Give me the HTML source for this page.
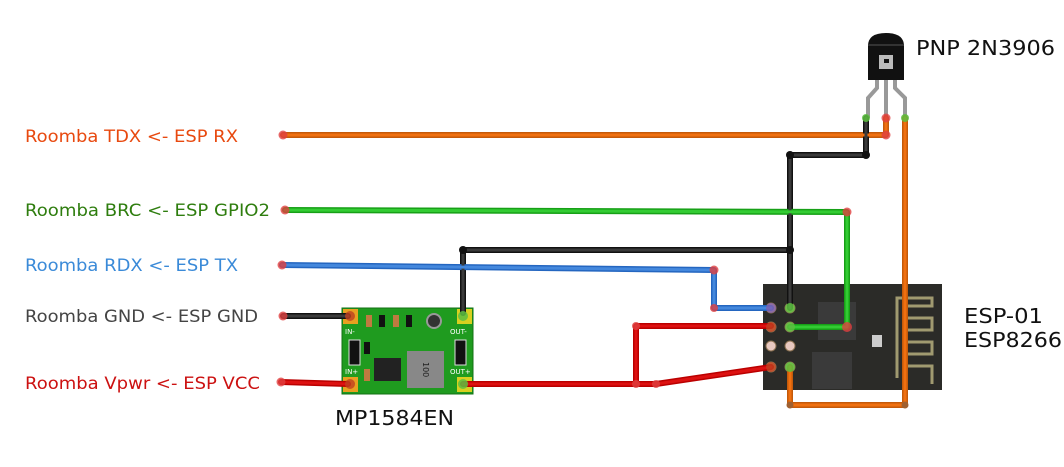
<!DOCTYPE html>
<html><head><meta charset="utf-8"><style>
html,body{margin:0;padding:0;background:#fff;}
svg{display:block;}
text{font-family:"DejaVu Sans","Liberation Sans",sans-serif;}
</style></head><body>
<svg width="1064" height="467" viewBox="0 0 1064 467" xmlns="http://www.w3.org/2000/svg">
<!-- labels -->
<text x="25" y="142" font-size="17" fill="#e8490f" textLength="213" lengthAdjust="spacingAndGlyphs">Roomba TDX &lt;- ESP RX</text>
<text x="25" y="216" font-size="17" fill="#2e7d0e" textLength="245" lengthAdjust="spacingAndGlyphs">Roomba BRC &lt;- ESP GPIO2</text>
<text x="25" y="271" font-size="17" fill="#3a8ad8" textLength="213" lengthAdjust="spacingAndGlyphs">Roomba RDX &lt;- ESP TX</text>
<text x="25" y="322" font-size="17" fill="#444" textLength="233" lengthAdjust="spacingAndGlyphs">Roomba GND &lt;- ESP GND</text>
<text x="25" y="389" font-size="17" fill="#cc1111" textLength="235" lengthAdjust="spacingAndGlyphs">Roomba Vpwr &lt;- ESP VCC</text>
<text x="916" y="55" font-size="20" fill="#111" textLength="139" lengthAdjust="spacingAndGlyphs">PNP 2N3906</text>
<text x="964" y="323" font-size="20" fill="#111" textLength="79" lengthAdjust="spacingAndGlyphs">ESP-01</text>
<text x="964" y="347" font-size="20" fill="#111" textLength="98" lengthAdjust="spacingAndGlyphs">ESP8266</text>
<text x="335" y="425" font-size="20" fill="#111" textLength="119" lengthAdjust="spacingAndGlyphs">MP1584EN</text>

<!-- MP1584 board -->
<rect x="342" y="308" width="131" height="86" fill="#1f9b1f" stroke="#137013" stroke-width="1"/>
<rect x="343" y="309" width="15" height="15" fill="#e8a020"/>
<rect x="343" y="377" width="15" height="15" fill="#e8a020"/>
<rect x="457" y="309" width="15" height="15" fill="#d8d020"/>
<rect x="457" y="377" width="15" height="15" fill="#d8d020"/>
<text x="345" y="334" font-size="7" fill="#fff">IN-</text>
<text x="345" y="374" font-size="7" fill="#fff">IN+</text>
<text x="450" y="334" font-size="7" fill="#fff">OUT-</text>
<text x="450" y="374" font-size="7" fill="#fff">OUT+</text>
<rect x="366" y="315" width="6" height="12" fill="#c07a40"/>
<rect x="379" y="315" width="6" height="12" fill="#111"/>
<rect x="393" y="315" width="6" height="12" fill="#c07a40"/>
<rect x="406" y="315" width="6" height="12" fill="#111"/>
<rect x="349" y="340" width="11" height="25" fill="#111" stroke="#ddd" stroke-width="1"/>
<rect x="364" y="342" width="6" height="12" fill="#111"/>
<rect x="364" y="369" width="6" height="12" fill="#c07a40"/>
<rect x="374" y="358" width="27" height="23" fill="#222"/>
<rect x="407" y="351" width="37" height="37" fill="#888"/>
<text x="0" y="0" font-size="8" fill="#222" transform="translate(423,362) rotate(90)">100</text>
<circle cx="434" cy="321" r="7" fill="#333" stroke="#999" stroke-width="2"/>
<rect x="455" y="340" width="11" height="25" fill="#111" stroke="#ddd" stroke-width="1"/>

<!-- ESP-01 -->
<rect x="763" y="284" width="179" height="106" fill="#2b2b28"/>
<rect x="818" y="302" width="38" height="38" fill="#3a3a3a"/>
<rect x="812" y="352" width="40" height="37" fill="#3a3a3a"/>
<path d="M897 378 V298 H932 V306 H905 V318 H932 V330 H905 V342 H932 V354 H905 V366 H932 V384" fill="none" stroke="#a09a70" stroke-width="3"/>
<rect x="872" y="335" width="10" height="12" fill="#ccc"/>
<g fill="#c9a070" stroke="#8a7050" stroke-width="1">
<circle cx="771" cy="308" r="5"/><circle cx="790" cy="308" r="5"/>
<circle cx="771" cy="327" r="5"/><circle cx="790" cy="327" r="5"/>
<circle cx="771" cy="346" r="5" fill="#e8c8c0"/><circle cx="790" cy="346" r="5" fill="#e8c8c0"/>
<circle cx="771" cy="367" r="5"/><circle cx="790" cy="367" r="5"/>
</g>

<!-- transistor -->
<g stroke="#999" stroke-width="4" fill="none">
<path d="M877 78 V88 L868 98 V118"/>
<path d="M886 78 V118"/>
<path d="M895 78 V88 L905 98 V118"/>
</g>
<path d="M868 80 V46 Q868 33 886 33 Q904 33 904 46 V80 Z" fill="#111"/>
<rect x="868" y="44" width="36" height="2" fill="#333"/>
<rect x="879" y="55" width="14" height="14" fill="#bbb"/><rect x="884" y="59" width="5" height="4" fill="#111"/>

<!-- wires -->
<g fill="none" stroke-linecap="round" stroke-linejoin="round" stroke-width="6">
<path d="M283 135 H886 V118" stroke="#c55a0a"/>
<path d="M905 118 V405 H790 V367" stroke="#c55a0a"/>
<path d="M866 118 V155 H790 V308" stroke="#111"/>
<path d="M463 313 V250 H790" stroke="#111"/>
<path d="M285 210 L847 212 V327 H790" stroke="#17a017"/>
<path d="M282 265 L714 270 V308 H771" stroke="#2466c0"/>
<path d="M283 316 H348" stroke="#111"/>
<path d="M281 382 L348 384" stroke="#b00"/>
<path d="M463 384 H636 V326 H771" stroke="#b00"/>
<path d="M636 384 H656 L771 367" stroke="#b00"/>
</g>
<g fill="none" stroke-linecap="round" stroke-linejoin="round" stroke-width="3">
<path d="M283 135 H886 V118" stroke="#f07010"/>
<path d="M905 118 V405 H790 V367" stroke="#f07010"/>
<path d="M866 118 V155 H790 V308" stroke="#3a3a3a"/>
<path d="M463 313 V250 H790" stroke="#3a3a3a"/>
<path d="M285 210 L847 212 V327 H790" stroke="#33cc33"/>
<path d="M282 265 L714 270 V308 H771" stroke="#4488dd"/>
<path d="M283 316 H348" stroke="#3a3a3a"/>
<path d="M281 382 L348 384" stroke="#dd1111"/>
<path d="M463 384 H636 V326 H771" stroke="#dd1111"/>
<path d="M636 384 H656 L771 367" stroke="#dd1111"/>
</g>
<!-- endpoints -->
<g fill="#e04040" opacity="0.8">
<circle cx="283" cy="135" r="4.5"/><circle cx="285" cy="210" r="4.5"/><circle cx="282" cy="265" r="4.5"/>
<circle cx="283" cy="316" r="4.5"/><circle cx="281" cy="382" r="4.5"/>
<circle cx="886" cy="135" r="4.5"/><circle cx="886" cy="118" r="4.5"/>
<circle cx="847" cy="212" r="4.5"/><circle cx="714" cy="270" r="4.5"/><circle cx="714" cy="308" r="4"/>
<circle cx="636" cy="326" r="4"/><circle cx="636" cy="384" r="4"/><circle cx="656" cy="384" r="4"/>
<circle cx="847" cy="327" r="5"/>
</g>
<g fill="#111">
<circle cx="790" cy="155" r="4"/><circle cx="866" cy="155" r="4"/><circle cx="463" cy="250" r="4"/><circle cx="790" cy="250" r="4"/>
</g>
<g fill="#5cc040" opacity="0.85">
<circle cx="866" cy="118" r="4"/><circle cx="905" cy="118" r="4"/>
<circle cx="790" cy="308" r="5"/><circle cx="790" cy="327" r="5"/><circle cx="790" cy="367" r="5"/>
<circle cx="463" cy="316" r="5"/><circle cx="463" cy="384" r="5"/>
</g>
<g fill="#c04020" opacity="0.8">
<circle cx="771" cy="327" r="5"/><circle cx="771" cy="367" r="5"/><circle cx="350" cy="316" r="5"/><circle cx="350" cy="384" r="5"/>
</g>
<circle cx="771" cy="308" r="5" fill="#8060b0" opacity="0.8"/>
<g fill="#a06030"><circle cx="790" cy="405" r="3.5"/><circle cx="905" cy="405" r="3.5"/></g>
</svg>
</body></html>
